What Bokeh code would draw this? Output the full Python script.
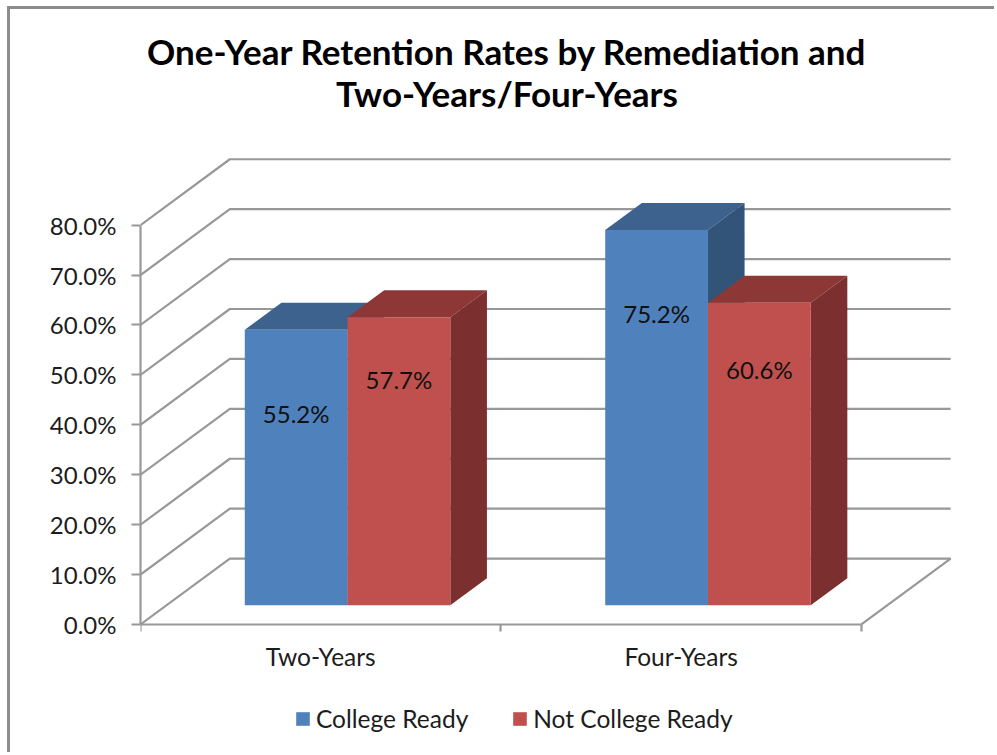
from bokeh.embed import file_html
from bokeh.resources import INLINE
from bokeh.plotting import figure
from bokeh.models import (FixedTicker, Range1d, Legend, LegendItem, Label,
                          PrintfTickFormatter, LinearAxis)
from bokeh.core.properties import value

categories = ["Two-Years", "Four-Years"]
series_names = ["College Ready", "Not College Ready"]
college_ready = [55.2, 75.2]
not_college_ready = [57.7, 60.6]
label_y_college = [38.5, 58.5]
label_y_not_college = [45.3, 47.3]
y_ticks = [0, 10, 20, 30, 40, 50, 60, 70, 80]
title_lines = ["One-Year Retention Rates by Remediation and", "Two-Years/Four-Years"]

FONT = "Lato"
GRID = "#989898"
TXT = "#1c1c1c"
BLUE = ("#4f81bd", "#3e628e", "#325478")
RED = ("#c0504d", "#8d3836", "#7b2f2e")

# oblique projection: full depth of the box in data units
DX, DY = 0.2478, 13.2
BAR_W, GAP = 0.2851, 0.2175
D0, D1 = 0.29, 0.70

p = figure(width=987, height=746, output_backend="svg", toolbar_location=None,
           x_range=Range1d(0, 2.289), y_range=Range1d(-26.25, 123.2),
           min_border_left=130, min_border_right=32, min_border_top=0, min_border_bottom=0,
           x_axis_type=None, y_axis_type=None, outline_line_color=None, margin=(6, 0, 0, 7))
p.styles = {"border-left": "3px solid #8c8c8c", "border-top": "3px solid #8c8c8c"}
p.grid.visible = False

# walls and floor
xs, ys = [], []
for v in y_ticks:
    xs.append([0, DX, DX + 2])
    ys.append([v, v + DY, v + DY])
xs.append([2, DX + 2])
ys.append([0, DY])
p.multi_line(xs, ys, line_color=GRID, line_width=2.2)

# axes
yax = LinearAxis(ticker=FixedTicker(ticks=y_ticks), formatter=PrintfTickFormatter(format="%.1f%%"),
                 bounds=(0, 80), axis_line_color=GRID, axis_line_width=2.2,
                 major_tick_line_color=GRID, major_tick_line_width=2.2,
                 major_tick_in=0, major_tick_out=9, minor_tick_line_color=None,
                 major_label_text_font=FONT, major_label_text_font_size="24px",
                 major_label_text_color=TXT, major_label_standoff=15)
p.add_layout(yax, "left")
xax = LinearAxis(ticker=FixedTicker(ticks=[0.5, 1.5], minor_ticks=[0, 1, 2]), bounds=(0, 2),
                 fixed_location=0,
                 major_label_overrides={0.5: categories[0], 1.5: categories[1]},
                 axis_line_color=GRID, axis_line_width=2.2,
                 major_tick_line_color=None, minor_tick_line_color=GRID, minor_tick_line_width=2.2,
                 minor_tick_in=0, minor_tick_out=7,
                 major_label_text_font=FONT, major_label_text_font_size="24.5px",
                 major_label_text_color=TXT, major_label_standoff=11)
p.add_layout(xax, "below")

legend_items = []
for s, (vals, cols, name, laby) in enumerate([
        (college_ready, BLUE, series_names[0], label_y_college),
        (not_college_ready, RED, series_names[1], label_y_not_college)]):
    left = [i + GAP + s * BAR_W + D0 * DX for i in range(2)]
    right = [l + BAR_W for l in left]
    bottom = [D0 * DY] * 2
    top = [v + D0 * DY for v in vals]
    dx, dy = (D1 - D0) * DX, (D1 - D0) * DY
    p.patches([[l, l + dx, r + dx, r] for l, r in zip(left, right)],
              [[t, t + dy, t + dy, t] for t in top], fill_color=cols[1], line_color=None)
    p.patches([[r, r + dx, r + dx, r] for r in right],
              [[b, b + dy, t + dy, t] for b, t in zip(bottom, top)], fill_color=cols[2], line_color=None)
    q = p.quad(left=left, right=right, bottom=bottom, top=top, fill_color=cols[0], line_color=None)
    legend_items.append(LegendItem(label=name, renderers=[q]))
    p.text([(l + r) / 2 for l, r in zip(left, right)], [y + D0 * DY for y in laby],
           text=[f"{v:.1f}%" for v in vals], text_align="center", text_baseline="middle",
           text_font=value(FONT), text_font_size="24px", text_color="#101010")

legend = Legend(items=legend_items, orientation="horizontal", location=(154, 22),
                background_fill_alpha=0, border_line_color=None,
                label_text_font=FONT, label_text_font_size="24.5px", label_text_color=TXT,
                glyph_width=17, glyph_height=17, spacing=43, label_standoff=5, margin=0, padding=0)
p.add_layout(legend, "center")

for line, y in zip(title_lines, [114.9, 106.4]):
    p.add_layout(Label(x=1.017, y=y, text=line, text_align="center", text_baseline="middle",
                       text_font=FONT, text_font_size="35px", text_font_style="bold",
                       text_color="#000000"))

open("out.html", "w").write(file_html(p, INLINE))
